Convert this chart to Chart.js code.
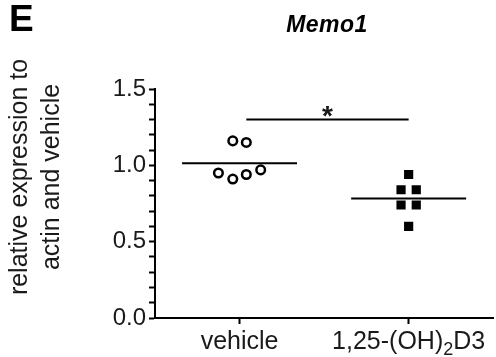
<!DOCTYPE html>
<html>
<head>
<meta charset="utf-8">
<script src="https://cdn.jsdelivr.net/npm/chart.js@4"></script>
<style>
    html, body { margin: 0; padding: 0; background: #fff; overflow: hidden; }
    canvas { display: block; }
</style>
</head>
<body>
<canvas id="chart" width="500" height="357"></canvas>
<script>
// Datos
const categories = ['vehicle', '1,25-(OH)2D3'];
const vehicleValues = [1.16, 1.15, 0.95, 0.91, 0.94, 0.97];
const vehicleJitter = [-0.04, 0.04, -0.125, -0.04, 0.04, 0.125];
const d3Values = [0.94, 0.84, 0.84, 0.74, 0.74, 0.60];
const d3Jitter = [0, -0.045, 0.045, -0.045, 0.045, 0];
const means = [1.013, 0.783];
const meanFrom = [-0.34, 0.66];
const meanTo = [0.34, 1.34];
const sigBar = { from: 0.04, to: 1.0, y: 1.30, label: '*' };
const yTicks = [0.0, 0.5, 1.0, 1.5];

const INK = '#1a1a1a';
const FONT = "'Liberation Sans', Arial, sans-serif";

const toPoints = (vals, jit, cat) => vals.map((v, i) => ({ x: cat + jit[i], y: v }));

// Textos extra: letra del panel, título, etiqueta Y, etiquetas X con subíndice
const extras = {
    id: 'extras',
    afterDraw(chart) {
        const ctx = chart.ctx;
        const x = chart.scales.x;
        const y = chart.scales.y;
        ctx.save();
        ctx.fillStyle = '#000';
        ctx.textAlign = 'left';
        ctx.textBaseline = 'alphabetic';
        ctx.font = `bold 37px ${FONT}`;
        ctx.fillText('E', 9, 31);

        ctx.font = `italic bold 23px ${FONT}`;
        ctx.textAlign = 'center';
        ctx.letterSpacing = '0.5px';
        ctx.fillText('Memo1', 327, 32);
        ctx.letterSpacing = '0px';

        // Título del eje Y en dos líneas
        ctx.fillStyle = INK;
        ctx.font = `25px ${FONT}`;
        ctx.save();
        ctx.translate(0, 177);
        ctx.rotate(-Math.PI / 2);
        ctx.textBaseline = 'middle';
        ctx.fillText('relative expression to', 0, 20);
        ctx.fillText('actin and vehicle', 0, 52);
        ctx.restore();

        // Etiquetas del eje X
        const ly = 349;
        ctx.textAlign = 'center';
        ctx.font = `25px ${FONT}`;
        ctx.fillText(categories[0], x.getPixelForValue(0), ly);
        const a = '1,25-(OH)', sub = '2', b = 'D3';
        const wa = ctx.measureText(a).width, wb = ctx.measureText(b).width;
        ctx.font = `18px ${FONT}`;
        const ws = ctx.measureText(sub).width;
        let cx = x.getPixelForValue(1) - (wa + ws + wb) / 2;
        ctx.textAlign = 'left';
        ctx.font = `25px ${FONT}`;
        ctx.fillText(a, cx, ly);
        ctx.font = `18px ${FONT}`;
        ctx.fillText(sub, cx + wa, ly + 6);
        ctx.font = `25px ${FONT}`;
        ctx.fillText(b, cx + wa + ws, ly);

        // Asterisco de significancia
        ctx.textAlign = 'center';
        ctx.font = `bold 28px ${FONT}`;
        ctx.fillText(sigBar.label, x.getPixelForValue((sigBar.from + sigBar.to) / 2), y.getPixelForValue(sigBar.y) + 5);
        ctx.restore();
    }
};

new Chart(document.getElementById('chart'), {
    type: 'scatter',
    data: {
        datasets: [
            {
                data: toPoints(vehicleValues, vehicleJitter, 0),
                pointStyle: 'circle',
                pointRadius: 4.3,
                pointBackgroundColor: '#fff',
                pointBorderColor: '#000',
                pointBorderWidth: 2.5
            },
            {
                data: toPoints(d3Values, d3Jitter, 1),
                pointStyle: 'rect',
                pointRadius: 6.5,
                pointBackgroundColor: '#000',
                pointBorderColor: '#000',
                pointBorderWidth: 0
            },
            // Medias
            ...means.map((m, i) => ({
                type: 'line',
                data: [{ x: meanFrom[i], y: m }, { x: meanTo[i], y: m }],
                borderColor: '#000',
                borderWidth: 2,
                pointRadius: 0,
                clip: false
            })),
            {
                type: 'line',
                data: [{ x: sigBar.from, y: sigBar.y }, { x: sigBar.to, y: sigBar.y }],
                borderColor: '#000',
                borderWidth: 2,
                pointRadius: 0
            }
        ]
    },
    options: {
        responsive: false,
        animation: false,
        layout: { padding: { top: 89, right: 1, left: 0, bottom: 0 } },
        plugins: {
            legend: { display: false },
            tooltip: { enabled: false }
        },
        scales: {
            x: {
                type: 'linear',
                min: -0.5,
                max: 1.5,
                afterBuildTicks: (s) => { s.ticks = [{ value: 0 }, { value: 1 }]; },
                afterFit: (s) => { s.height = 39; },
                border: { color: '#000', width: 2 },
                grid: { drawOnChartArea: false, tickLength: 6, tickWidth: 2, tickColor: '#000' },
                ticks: { display: false }
            },
            y: {
                min: 0,
                max: 1.5,
                afterBuildTicks: (s) => {
                    const t = [];
                    for (let i = 0; i <= 15; i++) t.push({ value: i / 10 });
                    s.ticks = t;
                },
                afterFit: (s) => { s.width = 155; },
                border: { color: '#000', width: 2 },
                grid: {
                    drawOnChartArea: false,
                    tickLength: 6,
                    tickWidth: 2,
                    tickColor: '#000'
                },
                ticks: {
                    color: INK,
                    padding: 3,
                    autoSkip: false,
                    font: { family: FONT, size: 24 },
                    callback: (v) => yTicks.some(t => Math.abs(t - v) < 1e-6) ? v.toFixed(1) : ''
                }
            }
        }
    },
    plugins: [extras]
});
</script>
</body>
</html>
